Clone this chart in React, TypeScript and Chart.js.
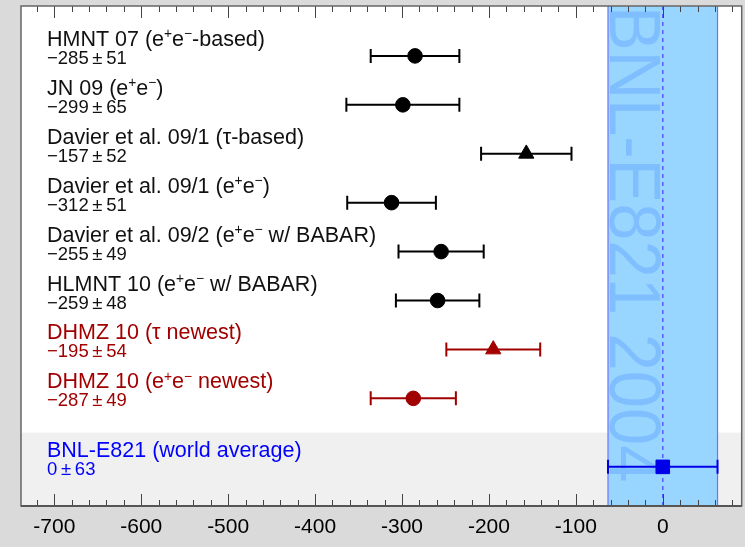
import React, { useEffect, useRef } from "react";
import { Chart, registerables } from "chart.js";

Chart.register(...registerables);

// ---------- data ----------
const names = [
  "HMNT 07 (e^{+}e^{−}-based)",
  "JN 09 (e^{+}e^{−})",
  "Davier et al. 09/1 (τ-based)",
  "Davier et al. 09/1 (e^{+}e^{−})",
  "Davier et al. 09/2 (e^{+}e^{−} w/ BABAR)",
  "HLMNT 10 (e^{+}e^{−} w/ BABAR)",
  "DHMZ 10 (τ newest)",
  "DHMZ 10 (e^{+}e^{−} newest)",
  "BNL-E821 (world average)",
];
const values = [-285, -299, -157, -312, -255, -259, -195, -287, 0];
const errors = [51, 65, 52, 51, 49, 48, 54, 49, 63];
const rows = [0, 1, 2, 3, 4, 5, 6, 7, 8.4];
const groups = ["black", "black", "black", "black", "black", "black", "red", "red", "blue"];
const markers = ["circle", "circle", "triangle", "circle", "circle", "circle", "triangle", "circle", "rect"];
const bandLabel = "BNL-E821 2004";
const worldIndex = 8;
const greyBandStart = 7.7;
const xMin = -738.3;
const xMax = 90.8;
const tickStep = 100;
const minorStep = 20;

// ---------- styles ----------
const FAMILY = '"Liberation Sans", Arial, Helvetica, sans-serif';
const COLORS: Record<string, string> = { black: "#000000", red: "#a20000", blue: "#0000e8" };
const TEXT_COLORS: Record<string, string> = { black: "#111111", red: "#a20000", blue: "#0000ff" };
const RADIUS: Record<string, number> = { circle: 7.3, triangle: 8.8, rect: 9.6 };

function fmtValue(v: number, e: number) {
  const s = v < 0 ? "\u2212" + Math.abs(v) : String(v);
  return s + "\u2009\u00b1\u2009" + e;
}

function drawRich(ctx: CanvasRenderingContext2D, text: string, x: number, yBase: number, size: number) {
  const parts = text.split(/(\^\{[^}]*\})/);
  let cx = x;
  for (const p of parts) {
    if (!p) continue;
    const m = p.match(/^\^\{(.*)\}$/);
    if (m) {
      ctx.font = `${size * 0.64}px ${FAMILY}`;
      ctx.fillText(m[1], cx, yBase - size * 0.36);
      cx += ctx.measureText(m[1]).width;
    } else {
      ctx.font = `${size}px ${FAMILY}`;
      ctx.fillText(p, cx, yBase);
      cx += ctx.measureText(p).width;
    }
  }
}

const customPlugin = {
  id: "custom",
  beforeDraw(chart: any) {
    const { ctx, chartArea: a, scales } = chart;
    const x = scales.x;
    const y = scales.y;
    ctx.save();
    ctx.fillStyle = "#dadada";
    ctx.fillRect(0, 0, chart.width, chart.height);
    ctx.fillStyle = "#ffffff";
    ctx.fillRect(a.left, a.top, a.right - a.left, a.bottom - a.top);
    const gy = y.getPixelForValue(greyBandStart);
    ctx.fillStyle = "#f0f0f0";
    ctx.fillRect(a.left, gy, a.right - a.left, a.bottom - gy);

    // world average band
    const wv = values[worldIndex];
    const we = errors[worldIndex];
    const bx0 = x.getPixelForValue(wv - we);
    const bx1 = x.getPixelForValue(wv + we);
    ctx.fillStyle = "#99d6ff";
    ctx.fillRect(bx0, a.top, bx1 - bx0, a.bottom - a.top);

    // vertical label
    ctx.save();
    ctx.beginPath();
    ctx.rect(a.left, a.top, a.right - a.left, a.bottom - a.top);
    ctx.clip();
    ctx.translate(bx0 + 2, a.top);
    ctx.rotate(Math.PI / 2);
    ctx.scale(0.93, 1);
    ctx.font = `72px ${FAMILY}`;
    ctx.fillStyle = "#80bfff";
    ctx.textBaseline = "alphabetic";
    ctx.textAlign = "left";
    ctx.fillText(bandLabel, 0, 0);
    ctx.restore();

    ctx.strokeStyle = "#7070ff";
    ctx.lineWidth = 1.2;
    ctx.beginPath();
    ctx.moveTo(bx0, a.top);
    ctx.lineTo(bx0, a.bottom);
    ctx.moveTo(bx1, a.top);
    ctx.lineTo(bx1, a.bottom);
    ctx.stroke();

    const zx = x.getPixelForValue(wv);
    ctx.strokeStyle = "#5a5aff";
    ctx.lineWidth = 1.5;
    ctx.setLineDash([4, 4]);
    ctx.beginPath();
    ctx.moveTo(zx, a.top);
    ctx.lineTo(zx, a.bottom);
    ctx.stroke();
    ctx.setLineDash([]);
    ctx.restore();
  },
  beforeDatasetsDraw(chart: any) {
    const { ctx, chartArea: a, scales } = chart;
    const x = scales.x;
    const y = scales.y;
    ctx.save();
    // ticks
    ctx.strokeStyle = "#444444";
    ctx.lineWidth = 1;
    const start = Math.ceil(xMin / minorStep) * minorStep;
    ctx.beginPath();
    for (let v = start; v <= xMax; v += minorStep) {
      const px = Math.round(x.getPixelForValue(v)) + 0.5;
      const len = v % tickStep === 0 ? 12 : 6;
      ctx.moveTo(px, a.bottom);
      ctx.lineTo(px, a.bottom - len);
      ctx.moveTo(px, a.top);
      ctx.lineTo(px, a.top + len);
    }
    ctx.stroke();
    // frame
    ctx.strokeStyle = "#666666";
    ctx.lineWidth = 1.5;
    ctx.strokeRect(a.left, a.top, a.right - a.left, a.bottom - a.top);
    ctx.strokeStyle = "#555555";
    ctx.lineWidth = 2;
    ctx.beginPath();
    ctx.moveTo(a.left, a.bottom);
    ctx.lineTo(a.right, a.bottom);
    ctx.stroke();

    // error bars
    for (let i = 0; i < values.length; i++) {
      const col = COLORS[groups[i]];
      const py = y.getPixelForValue(rows[i]);
      const x0 = x.getPixelForValue(values[i] - errors[i]);
      const x1 = x.getPixelForValue(values[i] + errors[i]);
      ctx.strokeStyle = col;
      ctx.lineWidth = 2;
      ctx.beginPath();
      ctx.moveTo(x0, py);
      ctx.lineTo(x1, py);
      ctx.moveTo(x0, py - 7);
      ctx.lineTo(x0, py + 7);
      ctx.moveTo(x1, py - 7);
      ctx.lineTo(x1, py + 7);
      ctx.stroke();
    }
    ctx.restore();
  },
  afterDatasetsDraw(chart: any) {
    const { ctx, chartArea: a, scales } = chart;
    const y = scales.y;
    ctx.save();
    ctx.textAlign = "left";
    ctx.textBaseline = "alphabetic";
    const lx = a.left + 26;
    for (let i = 0; i < names.length; i++) {
      const py = y.getPixelForValue(rows[i]);
      ctx.fillStyle = TEXT_COLORS[groups[i]];
      drawRich(ctx, names[i], lx, py - 10, 21.5);
      ctx.font = `18.5px ${FAMILY}`;
      ctx.fillText(fmtValue(values[i], errors[i]), lx, py + 8);
    }
    ctx.restore();
  },
};

export default function App() {
  const ref = useRef<HTMLCanvasElement>(null);
  useEffect(() => {
    document.body.style.margin = "0";
    const canvas = ref.current!;
    const chart = new Chart(canvas, {
      type: "scatter",
      data: {
        datasets: [
          {
            data: values.map((v, i) => ({ x: v, y: rows[i] })),
            pointStyle: markers as any,
            pointRadius: markers.map((m) => RADIUS[m]),
            pointBackgroundColor: groups.map((g) => COLORS[g]),
            pointBorderColor: groups.map((g) => COLORS[g]),
            pointBorderWidth: 1,
            showLine: false,
          } as any,
        ],
      },
      options: {
        responsive: false,
        animation: false,
        devicePixelRatio: 1,
        layout: { autoPadding: false, padding: { left: 21, right: 3.3, top: 6, bottom: 0 } },
        plugins: { legend: { display: false }, tooltip: { enabled: false } },
        scales: {
          x: {
            type: "linear",
            min: xMin,
            max: xMax,
            afterFit(s: any) {
              s.height = 41;
            },
            grid: { display: false, drawTicks: false },
            border: { display: false },
            ticks: {
              stepSize: tickStep,
              includeBounds: false,
              color: "#000000",
              font: { family: FAMILY, size: 21 },
              padding: 9,
              maxRotation: 0,
              autoSkip: false,
            },
          },
          y: { type: "linear", display: false, min: -1.02, max: 9.2, reverse: true },
        },
      } as any,
      plugins: [customPlugin],
    });
    return () => chart.destroy();
  }, []);
  return (
    <div style={{ width: 745, height: 547 }}>
      <canvas ref={ref} width={745} height={547} style={{ display: "block" }} />
    </div>
  );
}
